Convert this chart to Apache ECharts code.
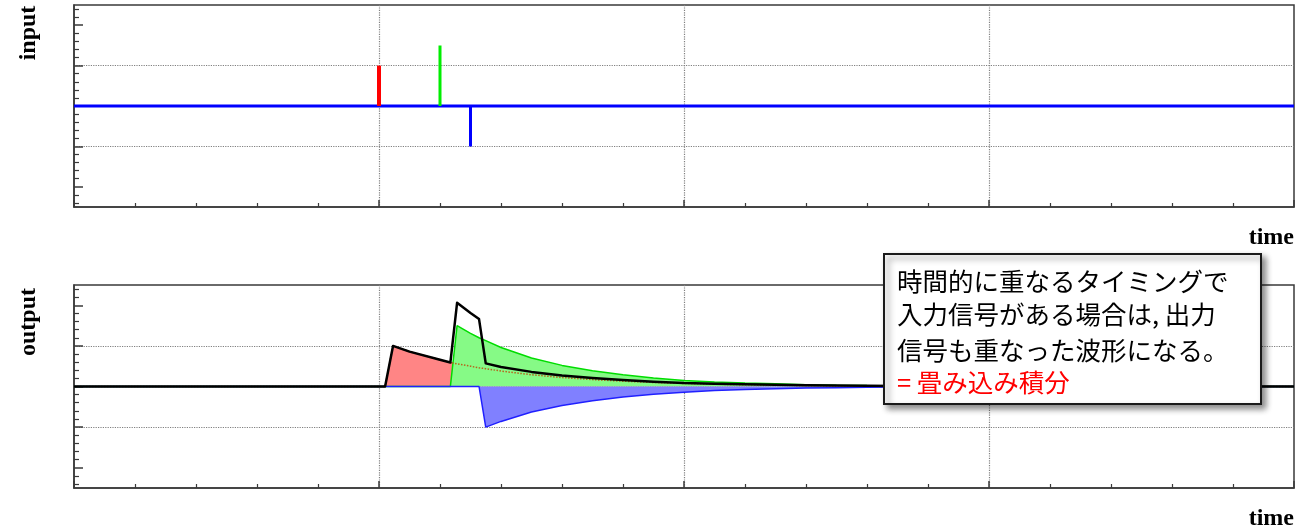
<!DOCTYPE html>
<html>
<head>
<meta charset="utf-8">
<script src="https://cdn.jsdelivr.net/npm/echarts@6/dist/echarts.min.js"></script>
<style>
  html, body { margin: 0; padding: 0; background: #ffffff; }
  #chart { width: 1296px; height: 531px; }
</style>
</head>
<body>
<div id="chart"></div>
<script>
// Input pulses: arrival time and amplitude of each pulse
const pulseTimes = [5.0, 6.0, 6.5];
const pulseAmps = [1.0, 1.5, -1.0];

// Output responses sampled at these times
const outTimes = [0, 5.1, 5.23, 5.5, 6.0, 6.17, 6.28, 6.5, 6.64, 6.75,
                  7.0, 7.5, 8.0, 8.5, 9.0, 9.5, 10, 10.5, 11, 11.5,
                  12, 12.5, 13, 13.5, 14, 15, 20];
const redOut = [0, 0, 1.00, 0.86, 0.66, 0.59, 0.56, 0.50, 0.46, 0.44,
                0.38, 0.29, 0.22, 0.17, 0.13, 0.10, 0.075, 0.057, 0.043, 0.033,
                0.025, 0.019, 0.014, 0.010, 0.008, 0.004, 0];
const greenOut = [0, 0, 0, 0, 0, 0, 1.50, 1.31, 1.20, 1.13,
                  0.96, 0.70, 0.52, 0.39, 0.29, 0.21, 0.15, 0.11, 0.085, 0.065,
                  0.045, 0.032, 0.023, 0.016, 0.011, 0.005, 0];
const blueOut = [0, 0, 0, 0, 0, 0, 0, 0, 0, -1.00,
                 -0.86, -0.63, -0.47, -0.35, -0.26, -0.19, -0.14, -0.10, -0.075, -0.055,
                 -0.040, -0.029, -0.021, -0.015, -0.011, -0.005, 0];

// Axis ranges
const timeRange = [0, 20];
const ampRange = [-2.5, 2.5];
const majorAmpTicks = [-2, -1, 0, 1, 2];

// Annotation text
const noteLines = ['時間的に重なるタイミングで', '入力信号がある場合は, 出力', '信号も重なった波形になる。'];
const noteResult = '= 畳み込み積分';

const frameColor = '#3a3a3a';
const gridLine = { show: true, showMinLine: false, showMaxLine: false,
                   lineStyle: { type: 'dotted', color: '#808080', width: 1.2 } };

const minorAmpTicks = [];
for (let k = -12; k <= 12; k++) {
  const v = Math.round(k * 0.2 * 10) / 10;
  if (!Number.isInteger(v)) minorAmpTicks.push(v);
}

function timeAxis(gi) {
  return {
    gridIndex: gi, type: 'value', min: timeRange[0], max: timeRange[1], interval: 5,
    axisLine: { onZero: false, lineStyle: { color: frameColor, width: 1.5 } },
    axisTick: { inside: true, length: 7, lineStyle: { color: frameColor, width: 1.5 } },
    minorTick: { show: true, splitNumber: 5, length: 4, lineStyle: { color: frameColor, width: 1.2 } },
    axisLabel: { show: false },
    splitLine: gridLine
  };
}
function ampAxis(gi) {
  return {
    gridIndex: gi, type: 'value', position: 'left', min: ampRange[0], max: ampRange[1], splitNumber: 5,
    axisLine: { show: true, onZero: false, lineStyle: { color: frameColor, width: 1.5 } },
    axisTick: { show: true, inside: true, length: 9, customValues: majorAmpTicks,
                lineStyle: { color: frameColor, width: 1.5 } },
    axisLabel: { show: false },
    splitLine: gridLine
  };
}
function ampMinorAxis(gi) {
  return {
    gridIndex: gi, type: 'value', position: 'left', min: ampRange[0], max: ampRange[1], splitNumber: 5,
    axisLine: { show: false },
    axisTick: { show: true, inside: true, length: 5, customValues: minorAmpTicks,
                lineStyle: { color: frameColor, width: 1.2 } },
    axisLabel: { show: false },
    splitLine: { show: false }
  };
}

const zip = (xs, ys) => xs.map((x, i) => [x, ys[i]]);
const sumOut = outTimes.map((t, i) => redOut[i] + greenOut[i] + blueOut[i]);

// Input panel: blue carries the full baseline, red and green are single spikes
const bluePulse = [[timeRange[0], 0], [pulseTimes[2], 0], [pulseTimes[2], pulseAmps[2]],
                   [pulseTimes[2], 0], [timeRange[1], 0]];
const redPulse = [[pulseTimes[0], 0], [pulseTimes[0], pulseAmps[0]]];
const greenPulse = [[pulseTimes[1], 0], [pulseTimes[1], pulseAmps[1]]];

const base = { type: 'line', symbol: 'none', animation: false, silent: true };
const noteFont = '25.5px "Noto Sans CJK JP"';

const option = {
  backgroundColor: '#ffffff',
  animation: false,
  grid: [
    { left: 74, top: 5, width: 1220, height: 202, show: true, borderColor: frameColor, borderWidth: 1.5 },
    { left: 74, top: 285, width: 1220, height: 203, show: true, borderColor: frameColor, borderWidth: 1.5 }
  ],
  xAxis: [timeAxis(0), timeAxis(1)],
  yAxis: [ampAxis(0), ampMinorAxis(0), ampAxis(1), ampMinorAxis(1)],
  series: [
    Object.assign({}, base, { xAxisIndex: 0, yAxisIndex: 0, data: bluePulse, z: 3,
      lineStyle: { color: '#0000ff', width: 3, cap: 'butt' } }),
    Object.assign({}, base, { xAxisIndex: 0, yAxisIndex: 0, data: redPulse, z: 4,
      lineStyle: { color: '#ff0000', width: 4, cap: 'butt' } }),
    Object.assign({}, base, { xAxisIndex: 0, yAxisIndex: 0, data: greenPulse, z: 4,
      lineStyle: { color: '#00ee00', width: 3, cap: 'butt' } }),

    // Output panel: individual responses and their sum
    Object.assign({}, base, { xAxisIndex: 1, yAxisIndex: 2, data: zip(outTimes, redOut), z: 2,
      lineStyle: { color: '#ff2020', width: 1 }, areaStyle: { color: '#ff8585', opacity: 1 } }),
    Object.assign({}, base, { xAxisIndex: 1, yAxisIndex: 2, data: zip(outTimes, greenOut), z: 3,
      lineStyle: { color: '#00dd00', width: 1.5 }, areaStyle: { color: '#86fa86', opacity: 1 } }),
    Object.assign({}, base, { xAxisIndex: 1, yAxisIndex: 2, data: zip(outTimes, blueOut), z: 3,
      lineStyle: { color: '#2020ff', width: 1.5 }, areaStyle: { color: '#8080ff', opacity: 1 } }),
    Object.assign({}, base, { xAxisIndex: 1, yAxisIndex: 2, data: zip(outTimes, redOut), z: 4,
      lineStyle: { color: '#b5651d', width: 1.5, type: 'dotted' } }),
    Object.assign({}, base, { xAxisIndex: 1, yAxisIndex: 2, data: zip(outTimes, sumOut), z: 5,
      lineStyle: { color: '#000000', width: 2.5, join: 'round' } })
  ],
  graphic: [
    { type: 'text', x: 29, y: 33, rotation: Math.PI / 2, z: 10,
      style: { text: 'input', font: 'bold 24px "Liberation Serif"', fill: '#000', align: 'center', verticalAlign: 'middle' } },
    { type: 'text', x: 29, y: 322, rotation: Math.PI / 2, z: 10,
      style: { text: 'output', font: 'bold 24px "Liberation Serif"', fill: '#000', align: 'center', verticalAlign: 'middle' } },
    { type: 'text', x: 1294, y: 238, z: 10,
      style: { text: 'time', font: 'bold 24px "Liberation Serif"', fill: '#000', align: 'right', verticalAlign: 'middle' } },
    { type: 'text', x: 1294, y: 519, z: 10,
      style: { text: 'time', font: 'bold 24px "Liberation Serif"', fill: '#000', align: 'right', verticalAlign: 'middle' } },
    { type: 'rect', z: 20, shape: { x: 884, y: 254, width: 377, height: 150 },
      style: { fill: '#ffffff', stroke: '#1a1a1a', lineWidth: 2,
               shadowBlur: 6, shadowOffsetX: 4, shadowOffsetY: 4, shadowColor: 'rgba(0,0,0,0.45)' } },
    { type: 'text', z: 21, x: 897, y: 281,
      style: { text: noteLines[0], font: noteFont, fill: '#000', verticalAlign: 'middle' } },
    { type: 'text', z: 21, x: 897, y: 314,
      style: { text: noteLines[1], font: noteFont, fill: '#000', verticalAlign: 'middle' } },
    { type: 'text', z: 21, x: 897, y: 350,
      style: { text: noteLines[2], font: noteFont, fill: '#000', verticalAlign: 'middle' } },
    { type: 'text', z: 21, x: 897, y: 382,
      style: { text: noteResult, font: noteFont, fill: '#ff0000', verticalAlign: 'middle' } }
  ]
};

const chart = echarts.init(document.getElementById('chart'), null, { renderer: 'canvas' });
chart.setOption(option);
</script>
</body>
</html>
